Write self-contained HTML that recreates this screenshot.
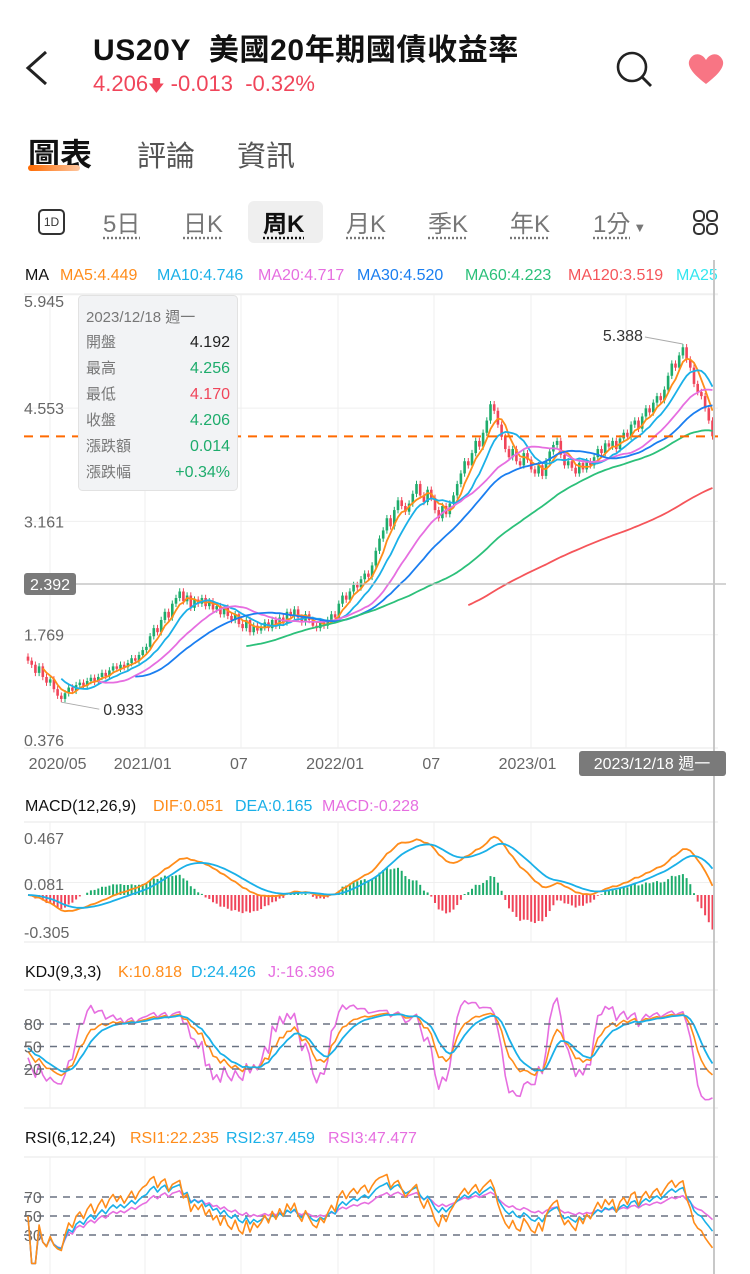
<!DOCTYPE html>
<html><head><meta charset="utf-8">
<style>
*{margin:0;padding:0;box-sizing:border-box}
body{width:750px;height:1274px;overflow:hidden;background:#fff;font-family:"Liberation Sans","Noto Sans CJK TC",sans-serif;position:relative}
.abs{position:absolute}
.per{position:absolute;top:204px;font-size:24px;color:#777;text-decoration:underline;text-decoration-style:dotted;text-underline-offset:5px}
</style></head><body>
<div class="abs" style="left:24px;top:50px;width:26px;height:36px">
<svg width="26" height="36"><path d="M22 2 L4 18 L22 34" fill="none" stroke="#222" stroke-width="3"/></svg></div>
<div class="abs" style="left:93px;top:25px;font-size:30px;font-weight:bold;color:#111;white-space:nowrap;letter-spacing:0.6px">US20Y&nbsp; 美國20年期國債收益率</div>
<div class="abs" style="left:93px;top:71px;font-size:22px;color:#f0455a;white-space:nowrap">4.206<span style="font-size:16px">&#129095;</span> -0.013&nbsp; -0.32%</div>
<div class="abs" style="left:614px;top:49px"><svg width="40" height="40"><circle cx="18" cy="18" r="14" fill="none" stroke="#222" stroke-width="2.6"/><path d="M28 28 L37 37" stroke="#222" stroke-width="2.8"/></svg></div>
<div class="abs" style="left:687px;top:52px"><svg width="38" height="34"><path d="M19 32 C2 19 0 12 3 7 C7 0 15 1 19 8 C23 1 31 0 35 7 C38 12 36 19 19 32Z" fill="#f87584"/></svg></div>
<div class="abs" style="left:28px;top:130px;font-size:32px;font-weight:bold;color:#111">圖表</div>
<div class="abs" style="left:28px;top:165px;width:52px;height:6px;border-radius:3px;background:linear-gradient(90deg,#ff6a00,#ffc7a0)"></div>
<div class="abs" style="left:137px;top:133px;font-size:29px;color:#555">評論</div>
<div class="abs" style="left:237px;top:133px;font-size:29px;color:#555">資訊</div>
<div class="abs" style="left:38px;top:209px;width:27px;height:26px;border:2px solid #333;border-radius:5px;font-size:12px;text-align:center;line-height:22px;color:#333">1D</div>
<div class="per" style="left:103px">5日</div>
<div class="per" style="left:183px">日K</div>
<div class="abs" style="left:248px;top:201px;width:75px;height:42px;background:#efefef;border-radius:6px"></div>
<div class="per" style="left:263px;color:#111;font-weight:bold">周K</div>
<div class="per" style="left:346px">月K</div>
<div class="per" style="left:428px">季K</div>
<div class="per" style="left:510px">年K</div>
<div class="per" style="left:593px">1分<span style="font-size:13px;text-decoration:none;display:inline-block;margin-left:3px">▼</span></div>
<div class="abs" style="left:692px;top:209px"><svg width="28" height="28"><g fill="none" stroke="#333" stroke-width="2"><rect x="2" y="2" width="10" height="10" rx="4"/><rect x="15" y="2" width="10" height="10" rx="4"/><rect x="2" y="15" width="10" height="10" rx="4"/><rect x="15" y="15" width="10" height="10" rx="4"/></g></svg></div>

<svg id="chart" class="abs" style="left:0;top:0" width="750" height="1274"></svg>

<script>
const closes=[1.45,1.40,1.30,1.38,1.25,1.18,1.22,1.10,1.02,0.98,
1.05,1.12,1.08,1.15,1.18,1.14,1.20,1.24,1.19,1.25,
1.30,1.26,1.33,1.38,1.35,1.40,1.37,1.42,1.48,1.45,
1.52,1.58,1.62,1.75,1.85,1.80,1.95,2.05,1.98,2.15,
2.22,2.30,2.18,2.25,2.10,2.20,2.15,2.22,2.12,2.18,
2.08,2.12,2.02,2.10,2.00,1.95,2.02,1.90,1.85,1.95,
1.80,1.88,1.82,1.86,1.92,1.85,1.95,1.88,1.98,1.92,
2.05,2.00,2.08,1.98,1.92,2.02,1.95,1.88,1.85,1.92,
1.88,1.95,2.02,1.98,2.15,2.25,2.20,2.30,2.38,2.35,
2.45,2.52,2.48,2.62,2.80,2.95,3.05,3.20,3.10,3.30,
3.42,3.35,3.28,3.38,3.50,3.62,3.48,3.40,3.55,3.45,
3.30,3.20,3.35,3.25,3.38,3.48,3.62,3.75,3.90,3.85,
4.00,4.15,4.08,4.25,4.40,4.60,4.52,4.35,4.20,4.05,
3.95,4.05,3.90,3.85,4.00,3.92,3.80,3.75,3.85,3.72,
3.90,4.02,4.10,4.15,3.98,3.85,3.90,3.82,3.75,3.88,
3.80,3.90,3.85,3.95,4.05,4.00,4.12,4.08,4.15,4.05,
4.18,4.25,4.20,4.35,4.40,4.30,4.45,4.55,4.50,4.62,
4.70,4.65,4.78,4.95,5.10,5.05,5.20,5.30,5.15,5.05,
4.85,4.75,4.70,4.55,4.40,4.206];
const firstOpen=1.50;
const priceTicks=["5.945","4.553","3.161","1.769","0.376"];
const xTickLabels=["2020/05","2021/01","07","2022/01","07","2023/01"];
const xTickWeeks=[8,31,57,83,109,135];
const macdTicks=["0.467","0.081","-0.305"];
const kdjLevels=[80,50,20];
const rsiLevels=[70,50,30];
const maPeriods=[5,10,20,30,60,120];
const maColors=["#ff8c1a","#1ab0e8","#e66ee0","#1a7ef0","#2cc07a","#f5555a"];

const svg=document.getElementById('chart');
const NS='http://www.w3.org/2000/svg';
function mk(tag,attrs,parent){const e=document.createElementNS(NS,tag);for(const k in attrs)e.setAttribute(k,attrs[k]);(parent||svg).appendChild(e);return e;}
function txt(x,y,s,fill,size,anchor){const t=mk('text',{x:x,y:y,fill:fill,'font-size':size||16,'text-anchor':anchor||'start','font-family':'"Liberation Sans","Noto Sans CJK TC",sans-serif'});t.textContent=s;return t;}
const X=i=>28+i*3.7;
const yP=v=>584-(v-2.392)*81.4;
const yM=v=>823+(0.467-v)/0.772*119;
const yK=v=>1084-v*0.75;
const yR=v=>1263.5-v*0.95;
const n=closes.length;
const opens=closes.map((c,i)=>i?closes[i-1]:firstOpen);
const highs=closes.map((c,i)=>Math.max(c,opens[i])+0.04);
const lows=closes.map((c,i)=>Math.min(c,opens[i])-0.04);

const G='#efefef';
[294,748,822,942,990,1108,1157].forEach(y=>mk('line',{x1:24,x2:718,y1:y,y2:y,stroke:G,'stroke-width':1.5}));
[5.945,4.553,3.161,1.769].forEach(v=>mk('line',{x1:24,x2:718,y1:yP(v),y2:yP(v),stroke:G}));
mk('line',{x1:24,x2:718,y1:yM(0.081),y2:yM(0.081),stroke:G});
[50,145,241,338,434,531,626].forEach(x=>{[[294,748],[822,942],[990,1108],[1157,1274]].forEach(r=>mk('line',{x1:x,x2:x,y1:r[0],y2:r[1],stroke:G}));});

let lg=txt(25,280,'MA','#111',16);

const maLegend=["MA5:4.449","MA10:4.746","MA20:4.717","MA30:4.520","MA60:4.223","MA120:3.519","MA250"];
const maLegX=[60,157,258,357,465,568,676];
const legColors=maColors.concat(["#33e6f0"]);
const clip=mk('clipPath',{id:'legclip'});mk('rect',{x:0,y:250,width:718,height:40},clip);
maLegend.forEach((s,k)=>{const t=txt(maLegX[k],280,s,legColors[k],16);t.setAttribute('clip-path','url(#legclip)');
});

priceTicks.forEach(s=>{const t=txt(24,yP(+s)+(s==="5.945"?12:s==="0.376"?-2:6),s,'#666',16);
});
xTickLabels.forEach((s,k)=>{const t=txt(X(xTickWeeks[k]),769,s,'#666',16,'middle');
});

const cg=mk('g',{});

for(let i=0;i<n;i++){const up=closes[i]>=opens[i];const col=up?'#1eac6c':'#f0455a';
mk('line',{x1:X(i),x2:X(i),y1:yP(highs[i]),y2:yP(lows[i]),stroke:col,'stroke-width':1},cg);
const t=Math.min(yP(opens[i]),yP(closes[i]));const h=Math.max(1,Math.abs(yP(opens[i])-yP(closes[i])));
mk('rect',{x:X(i)-1.3,y:t,width:2.6,height:h,fill:col},cg);}

function sma(arr,p){return arr.map((v,i)=>{if(i<p-1)return null;let s=0;for(let j=i-p+1;j<=i;j++)s+=arr[j];return s/p;});}
function poly(vals,yf,col,w,name){let d='';vals.forEach((v,i)=>{if(v==null)return;d+=(d?'L':'M')+X(i).toFixed(1)+' '+yf(v).toFixed(1);});
const p=mk('path',{d:d,fill:'none',stroke:col,'stroke-width':w||1.6,'stroke-linejoin':'round'});
return p;}
maPeriods.forEach((p,k)=>poly(sma(closes,p),yP,maColors[k],1.8,'ma'+p+'-line'));

const last=closes[n-1];
let rl=mk('line',{x1:24,x2:718,y1:yP(last),y2:yP(last),stroke:'#ff6a00','stroke-width':2,'stroke-dasharray':'9 7'});

let ch=mk('line',{x1:24,x2:726,y1:584,y2:584,stroke:'#bbb','stroke-width':1.2});

let cb=mk('rect',{x:24,y:573,width:52,height:22,rx:3,fill:'#7a7a7a'});

txt(50,590,'2.392','#fff',16,'middle');

let hi=0,lo=0;for(let i=0;i<n;i++){if(highs[i]>highs[hi])hi=i;if(lows[i]<lows[lo])lo=i;}
mk('line',{x1:X(hi),y1:yP(highs[hi]),x2:X(hi)-38,y2:yP(highs[hi])-7,stroke:'#aaa'});
let ht=txt(X(hi)-40,yP(highs[hi])-3,'5.388','#333',16,'end');

mk('line',{x1:X(lo),y1:yP(lows[lo]),x2:X(lo)+38,y2:yP(lows[lo])+7,stroke:'#aaa'});
let lt=txt(X(lo)+42,yP(lows[lo])+13,'0.933','#333',16);


function ema(arr,p){const a=2/(p+1);const o=[];arr.forEach((v,i)=>o.push(i?o[i-1]+a*(v-o[i-1]):v));return o;}
const e12=ema(closes,12),e26=ema(closes,26);
const dif=e12.map((v,i)=>v-e26[i]);
const dea=ema(dif,9);
const hist=dif.map((v,i)=>2*(v-dea[i]));
txt(25,811,'MACD(12,26,9)','#111',16);
txt(153,811,'DIF:0.051','#ff8c1a',16);
txt(235,811,'DEA:0.165','#1ab0e8',16);
txt(322,811,'MACD:-0.228','#e66ee0',16);
macdTicks.forEach((s,k)=>{const t=txt(24,[844,890,938][k],s,'#666',16);});
const hg=mk('g',{});
hist.forEach((v,i)=>{const y0=yM(0),y1=yM(v);mk('line',{x1:X(i),x2:X(i),y1:y0,y2:y1,stroke:v>=0?'#1eac6c':'#f0455a','stroke-width':2},hg);});
poly(dif,yM,'#ff8c1a',1.8,'macd-dif-line');
poly(dea,yM,'#1ab0e8',1.8,'macd-dea-line');

const K=[],D=[],J=[];
for(let i=0;i<n;i++){let h=-1e9,l=1e9;for(let j=Math.max(0,i-8);j<=i;j++){h=Math.max(h,highs[j]);l=Math.min(l,lows[j]);}
const rsv=h>l?(closes[i]-l)/(h-l)*100:50;const k=(i?K[i-1]:50)*2/3+rsv/3;const d=(i?D[i-1]:50)*2/3+k/3;K.push(k);D.push(d);J.push(3*k-2*d);}
txt(25,977,'KDJ(9,3,3)','#111',16);
txt(118,977,'K:10.818','#ff8c1a',16);
txt(191,977,'D:24.426','#1ab0e8',16);
txt(268,977,'J:-16.396','#e66ee0',16);
const kclip=mk('clipPath',{id:'kclip'});mk('rect',{x:24,y:990,width:694,height:118},kclip);
const kg=mk('g',{'clip-path':'url(#kclip)'});
kdjLevels.forEach(v=>{mk('line',{x1:24,x2:718,y1:yK(v),y2:yK(v),stroke:'#6a7282','stroke-width':1.5,'stroke-dasharray':'7 6'});
const t=txt(24,yK(v)+6,String(v),'#666',16);});
kg.appendChild(poly(J,yK,'#e66ee0',1.6,'kdj-j-line'));
kg.appendChild(poly(K,yK,'#ff8c1a',1.6,'kdj-k-line'));
kg.appendChild(poly(D,yK,'#1ab0e8',1.8,'kdj-d-line'));

function rsi(p){const o=[];let up=0,ab=0;for(let i=0;i<n;i++){const ch=i?closes[i]-closes[i-1]:0;
up=(Math.max(ch,0)+(p-1)*up)/p;ab=(Math.abs(ch)+(p-1)*ab)/p;o.push(ab?up/ab*100:50);}return o;}
txt(25,1143,'RSI(6,12,24)','#111',16);
txt(130,1143,'RSI1:22.235','#ff8c1a',16);
txt(226,1143,'RSI2:37.459','#1ab0e8',16);
txt(328,1143,'RSI3:47.477','#e66ee0',16);
rsiLevels.forEach(v=>{mk('line',{x1:24,x2:718,y1:yR(v),y2:yR(v),stroke:'#6a7282','stroke-width':1.5,'stroke-dasharray':'7 6'});
const t=txt(24,yR(v)+6,String(v),'#666',16);});
const rclip=mk('clipPath',{id:'rclip'});mk('rect',{x:24,y:1157,width:694,height:117},rclip);
const rg=mk('g',{'clip-path':'url(#rclip)'});
rg.appendChild(poly(rsi(24),yR,'#e66ee0',1.6,'rsi3-line'));
rg.appendChild(poly(rsi(12),yR,'#1ab0e8',1.6,'rsi2-line'));
rg.appendChild(poly(rsi(6),yR,'#ff8c1a',1.6,'rsi1-line'));

let cv=mk('line',{x1:714,x2:714,y1:260,y2:1274,stroke:'#c8c8c8','stroke-width':2});

let db=mk('rect',{x:579,y:751,width:147,height:25,rx:3,fill:'#7a7a7a'});

txt(652,769,'2023/12/18 週一','#fff',16,'middle');

const tg=mk('g',{});
mk('rect',{x:78.5,y:295.5,width:159,height:195,rx:4,fill:'#f2f3f5',stroke:'#e2e2e2'},tg);
const tipL=["開盤","最高","最低","收盤","漲跌額","漲跌幅"];
const tipV=["4.192","4.256","4.170","4.206","0.014","+0.34%"];
const tipC=["#222","#1eac6c","#f0455a","#1eac6c","#1eac6c","#1eac6c"];
tg.appendChild(txt(86,322,'2023/12/18 週一','#777',15));
tipL.forEach((s,k)=>{tg.appendChild(txt(86,347+k*26,s,'#777',15));tg.appendChild(txt(230,347+k*26,tipV[k],tipC[k],16,'end'));});
</script>
</body></html>
